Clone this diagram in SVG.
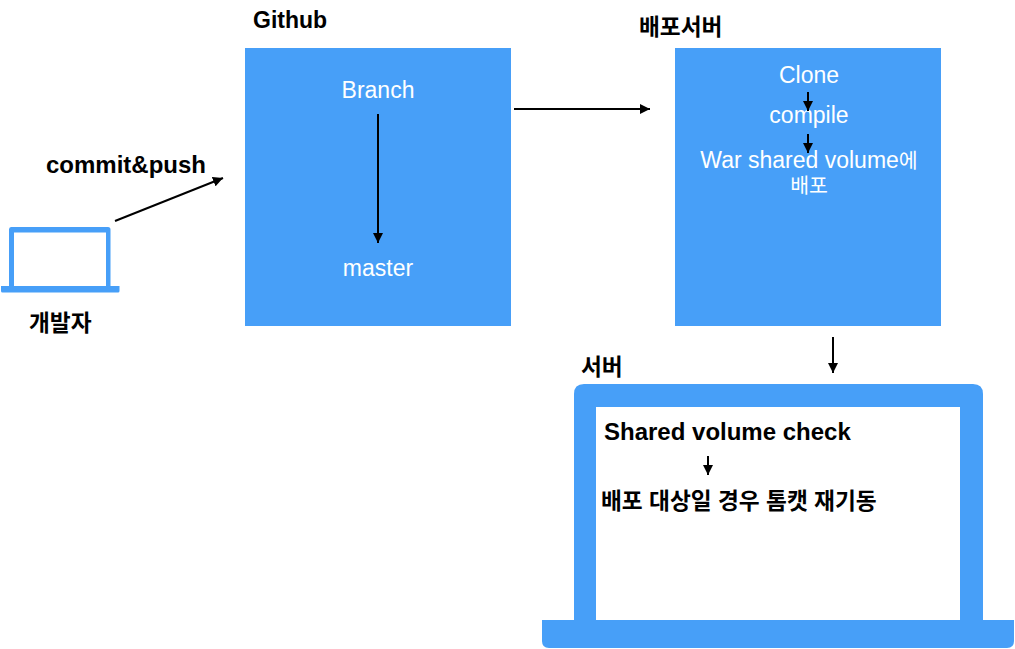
<svg xmlns="http://www.w3.org/2000/svg" width="1015" height="649" viewBox="0 0 1015 649">
<style>
text{font-family:"Liberation Sans","Noto Sans CJK KR",sans-serif}
.b{fill:#479ff8}
.t{font-size:23px;fill:#fff;text-anchor:middle}
.k{font-size:20.500px}
.h{font-size:24px;font-weight:bold;fill:#000}
.g{font-size:22.700px;font-weight:bold;fill:#000}
.c{stroke:#000;stroke-width:2;fill:none;marker-end:url(#a)}
</style>
<defs><marker id="a" markerUnits="userSpaceOnUse" markerWidth="11" markerHeight="11" viewBox="0 0 11 11" refX="10" refY="5.500" orient="auto"><path d="M0 0.500L10 5.500L0 10.500Z" fill="#000"/></marker></defs>
<rect width="1015" height="649" fill="#fff"/>
<g id="dev">
<path class="b" d="M11 227H108Q110.500 227 110.500 229.500V287H106V232.500H14V287H9V229.500Q9 227 11 227Z"/>
<path class="b" d="M1 286H119.500V291Q119.500 292.500 118 292.500H2.500Q1 292.500 1 291Z"/>
<text class="g" x="29" y="331">개발자</text>
<text class="h" x="46" y="173">commit&amp;push</text>
</g>
<g id="github">
<text class="h" x="253" y="28" style="font-size:23px">Github</text>
<rect class="b" x="245" y="48" width="266" height="278"/>
<text class="t" x="378" y="98">Branch</text>
<text class="t" x="378" y="276">master</text>
</g>
<g id="deploy">
<text class="g" x="639" y="35">배포서버</text>
<rect class="b" x="675" y="48" width="266" height="278"/>
<text class="t" x="809" y="83">Clone</text>
<text class="t" x="809" y="123">compile</text>
<text class="t" x="809" y="168">War shared volume<tspan class="k">에</tspan></text>
<text class="t k" x="809" y="193">배포</text>
</g>
<g id="server">
<text class="g" x="581" y="375">서버</text>
<path class="b" d="M584 384H973Q983 384 983 394V621H960V407H596V621H574V394Q574 384 584 384Z"/>
<path class="b" d="M542 620H1014V641Q1014 648 1007 648H549Q542 648 542 641Z"/>
<text class="h" x="604" y="440">Shared volume check</text>
<text class="g" x="601" y="509">배포 대상일 경우 톰캣 재기동</text>
</g>
<g id="connectors">
<path class="c" d="M115 221L223 178"/>
<path class="c" d="M378 114V243"/>
<path class="c" d="M514 109H650"/>
<path class="c" d="M808 92V111"/>
<path class="c" d="M808 134V153"/>
<path class="c" d="M833 337V373"/>
<path class="c" d="M708 456V475"/>
</g>
</svg>
